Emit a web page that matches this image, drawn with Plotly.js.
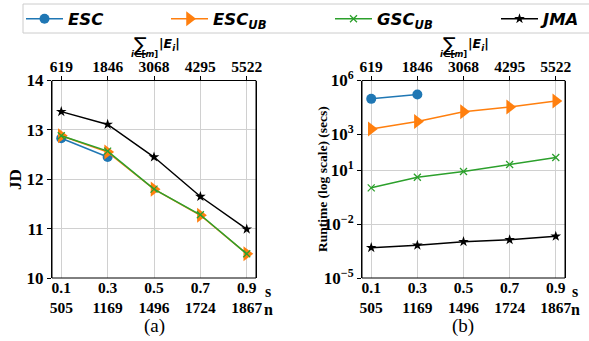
<!DOCTYPE html>
<html><head><meta charset="utf-8">
<script src="https://cdn.plot.ly/plotly-3.0.1.min.js"></script>
<style>html,body{margin:0;padding:0;background:#fff}#c{width:589px;height:341px}</style>
</head><body><div id="c"></div>
<script>
// ---- data ----
const sVals = [0.1, 0.3, 0.5, 0.7, 0.9];
const nLabels = ['505', '1169', '1496', '1724', '1867'];
const edgeLabels = ['619', '1846', '3068', '4295', '5522'];
const sLabels = ['0.1', '0.3', '0.5', '0.7', '0.9'];
const escS = [0.1, 0.3];
const jdESC = [12.83, 12.45];
const jdESCUB = [12.88, 12.55, 11.80, 11.27, 10.49];
const jdGSCUB = [12.88, 12.57, 11.80, 11.28, 10.49];
const jdJMA = [13.37, 13.11, 12.45, 11.65, 10.99];
const rtESC = [95000, 165000];
const rtESCUB = [2000, 5200, 18000, 33000, 72000];
const rtGSCUB = [1.05, 4.1, 8.5, 21, 51];
const rtJMA = [0.00049, 0.00066, 0.00105, 0.00135, 0.0021];
const jdTicks = [10, 11, 12, 13, 14];
const rtTicks = [1e-5, 1e-2, 1e1, 1e3, 1e6];
const rtTickText = ['10<sup>\u22125</sup>', '10<sup>\u22122</sup>', '10<sup>1</sup>', '10<sup>3</sup>', '10<sup>6</sup>'];
const seriesNames = ['<i>ESC</i>', '<i>ESC<sub>UB</sub></i>', '<i>GSC<sub>UB</sub></i>', '<i>JMA</i>'];

// ---- style ----
const W = 589, H = 341;
const px = v => v / W, py = v => 1 - v / H;
const colors = ['#1f77b4', '#ff7f0e', '#2ca02c', '#000000'];
const markers = [
  {symbol: 'circle', size: 10},
  {symbol: 'triangle-right', size: 13},
  {symbol: 'x-thin-open', size: 7, line: {width: 1.3, color: colors[2]}},
  {symbol: 'star', size: 8}
];
const SERIF = 'Liberation Serif, Times New Roman, serif';
const serifBold = {family: SERIF, size: 15.5, color: '#000', weight: 'bold'};
const legFont = {family: 'DejaVu Sans', size: 16.5, color: '#000', weight: 'bold', style: 'italic'};

function tr(i, x, y, xa, ya, legendName, show) {
  const m = Object.assign({color: colors[i]}, markers[i]);
  return {x: x, y: y, xaxis: xa, yaxis: ya, type: 'scatter', mode: 'lines+markers',
    name: seriesNames[i], line: {color: colors[i], width: 1.5}, marker: m,
    showlegend: show, legend: legendName, cliponaxis: false, hoverinfo: 'skip'};
}
const legNames = ['legend', 'legend2', 'legend3', 'legend4'];
const dummy = (xa, ya) => ({x: [sVals[0]], y: [null], xaxis: xa, yaxis: ya, showlegend: false, hoverinfo: 'skip', mode: 'markers'});
const data = [
  tr(0, escS, jdESC, 'x', 'y', legNames[0], true),
  tr(1, sVals, jdESCUB, 'x', 'y', legNames[1], true),
  tr(2, sVals, jdGSCUB, 'x', 'y', legNames[2], true),
  tr(3, sVals, jdJMA, 'x', 'y', legNames[3], true),
  tr(0, escS, rtESC, 'x2', 'y2', legNames[0], false),
  tr(1, sVals, rtESCUB, 'x2', 'y2', legNames[1], false),
  tr(2, sVals, rtGSCUB, 'x2', 'y2', legNames[2], false),
  tr(3, sVals, rtJMA, 'x2', 'y2', legNames[3], false),
  dummy('x3', 'y'), dummy('x4', 'y2'), dummy('x5', 'y'), dummy('x6', 'y2')
];

const xr = [0.06, 0.94];
const bottomText = sLabels.map((s, i) => s + '<br>' + nLabels[i]);
const gridc = '#d0d0d0';
const TOP = 80.5, BOT = 278;
function xBottom(dom) {
  return {domain: dom, anchor: 'free', position: py(BOT - 1.5), range: xr, tickvals: sVals, ticktext: bottomText,
    tickfont: serifBold, showgrid: true, gridcolor: gridc, gridwidth: 1, zeroline: false,
    showline: false, ticks: ''};
}
function xTopLabels(over) {
  return {overlaying: over, anchor: 'free', position: py(TOP - 5), side: 'top', range: xr, tickvals: sVals,
    ticktext: edgeLabels, tickfont: serifBold, showgrid: false, zeroline: false, showline: false, ticks: ''};
}
function xTopTicks(over, anchor) {
  return {overlaying: over, anchor: anchor, side: 'top', range: xr, tickvals: sVals, showticklabels: false,
    showgrid: false, zeroline: false, showline: false, ticks: 'outside', ticklen: 4, tickcolor: '#000', tickwidth: 1};
}
const domA = [px(52), px(256)], domB = [px(362), px(565)], domY = [py(BOT), py(TOP)];
const yFont = {family: SERIF, size: 17, color: '#000', weight: 'bold'};
function yAx(extra) {
  return Object.assign({domain: domY, tickfont: yFont, showgrid: true, gridcolor: gridc, zeroline: false,
    showline: true, linecolor: '#000', mirror: true, ticks: 'outside', ticklen: 4, tickcolor: '#000'}, extra);
}

const layout = {
  width: W, height: H, margin: {l: 0, r: 0, t: 0, b: 0},
  font: {family: SERIF, color: '#000'},
  paper_bgcolor: '#fff', plot_bgcolor: '#fff',
  xaxis: xBottom(domA),
  xaxis2: xBottom(domB),
  xaxis3: xTopLabels('x'),
  xaxis4: xTopLabels('x2'),
  xaxis5: xTopTicks('x', 'y'),
  xaxis6: xTopTicks('x2', 'y2'),
  yaxis: yAx({anchor: 'x', range: [10, 14], tickvals: jdTicks}),
  yaxis2: yAx({anchor: 'x2', type: 'log', range: [-5, 6], tickvals: rtTicks, ticktext: rtTickText}),
  showlegend: true,
  shapes: [
    {type: 'rect', xref: 'paper', yref: 'paper', x0: px(23), x1: px(600), y0: py(33), y1: py(4),
      line: {color: '#cccccc', width: 1}, fillcolor: 'rgba(0,0,0,0)'},
    {type: 'rect', xref: 'x domain', yref: 'y domain', x0: 0, x1: 1, y0: 0, y1: 1,
      line: {color: '#000', width: 1}, fillcolor: 'rgba(0,0,0,0)', layer: 'above'},
    {type: 'rect', xref: 'x2 domain', yref: 'y2 domain', x0: 0, x1: 1, y0: 0, y1: 1,
      line: {color: '#000', width: 1}, fillcolor: 'rgba(0,0,0,0)', layer: 'above'}
  ],
  annotations: []
};
const legX = [21, 166, 330, 496];
legNames.forEach((ln, i) => {
  layout[ln] = {x: px(legX[i]), xanchor: 'left', y: py(19), yanchor: 'middle', orientation: 'h',
    font: legFont, bgcolor: 'rgba(0,0,0,0)', borderwidth: 0, itemwidth: 37};
});
function ann(text, x, y, font, extra) {
  layout.annotations.push(Object.assign({text: text, x: px(x), y: py(y), xref: 'paper', yref: 'paper',
    showarrow: false, font: font, xanchor: 'center', yanchor: 'middle'}, extra || {}));
}
const sansBI = {family: 'DejaVu Sans', size: 12.5, color: '#000', weight: 'bold', style: 'italic'};
[[0, 154, 268], [309, 463, 575]].forEach(([off, cx, sx], k) => {
  ann('\u2211', 140 + off, 43.5, {family: 'DejaVu Sans', size: 19, color: '#000'});
  ann('<i>i</i>\u2208[<i>m</i>]', 144 + off, 54.5, {family: 'DejaVu Sans', size: 8.5, color: '#000', weight: 'bold'});
  ann('|<i>E<sub>i</sub></i>|', 169 + off, 44, sansBI);
  ann('s', sx, 291, {family: SERIF, size: 16, color: '#000', weight: 'bold'});
  ann('n', sx, 309, {family: SERIF, size: 16, color: '#000', weight: 'bold'});
  ann(k === 0 ? '(a)' : '(b)', cx, 326, {family: SERIF, size: 19, color: '#000'});
});
ann('JD', 15, 180, {family: SERIF, size: 17, color: '#000', weight: 'bold'}, {textangle: -90});
ann('Runtime (log scale) (secs)', 322, 179, {family: SERIF, size: 13.5, color: '#000', weight: 'bold'}, {textangle: -90});
Plotly.newPlot('c', data, layout, {staticPlot: true});
</script></body></html>
